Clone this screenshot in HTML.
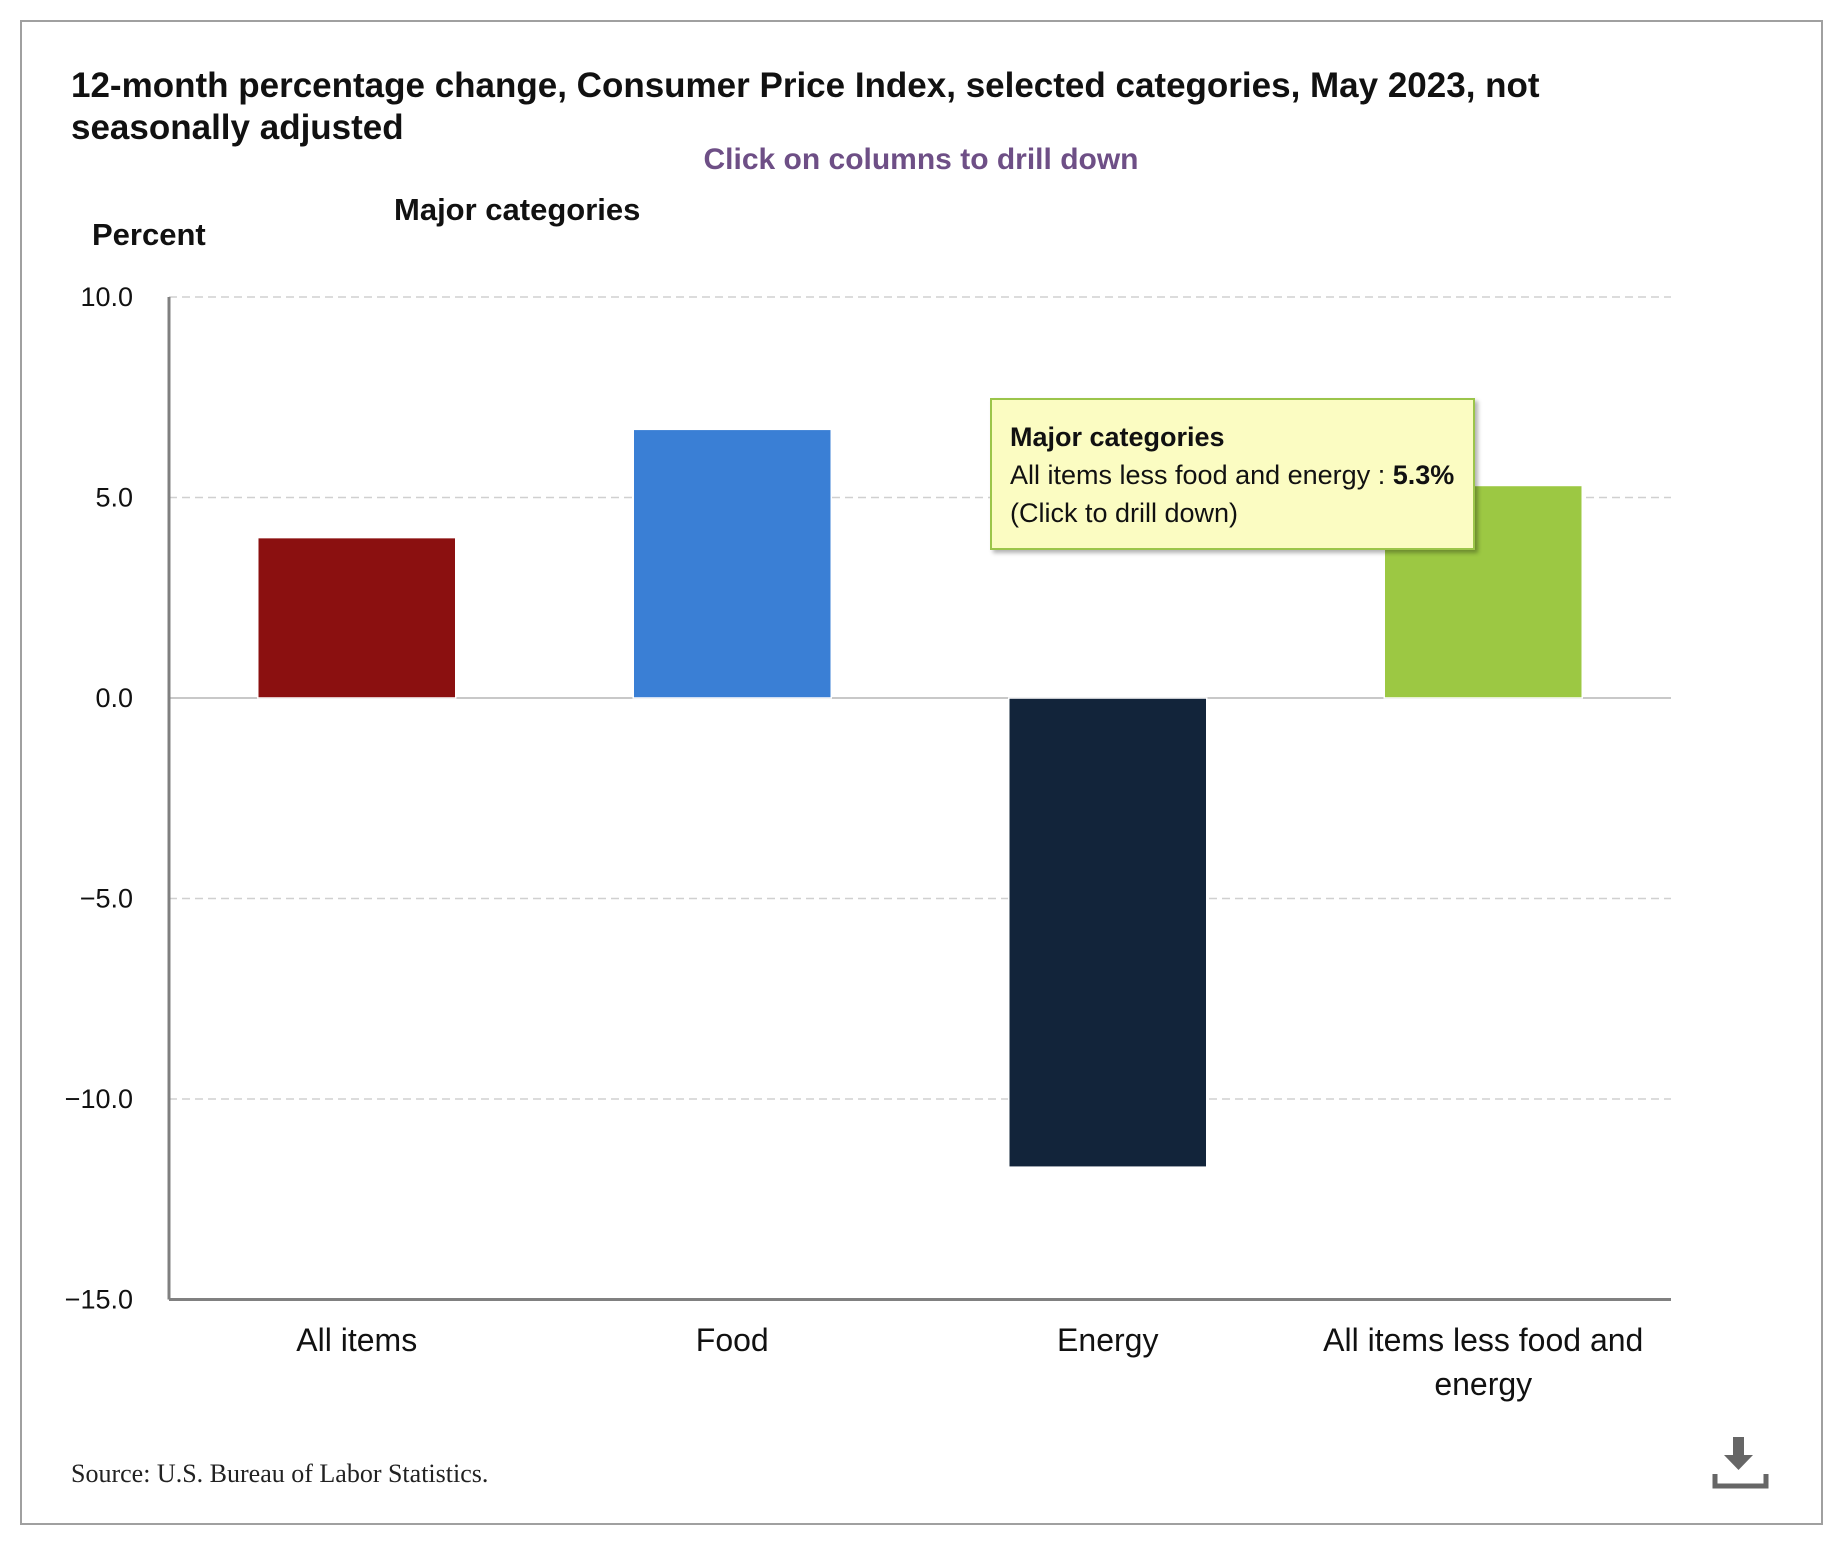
<!DOCTYPE html>
<html><head><meta charset="utf-8">
<style>
html,body{margin:0;padding:0;background:#fff;}
body{width:1832px;height:1546px;position:relative;overflow:hidden;font-family:"Liberation Sans",sans-serif;}
.abs{position:absolute;}
</style></head>
<body>
<div class="abs" style="left:20px;top:20px;width:1799px;height:1501px;border:2px solid #a0a0a0;"></div>
<div class="abs" style="left:71px;top:65px;width:1580px;font-size:35px;font-weight:bold;color:#111;line-height:42px;">12-month percentage change, Consumer Price Index, selected categories, May 2023, not seasonally adjusted</div>
<div class="abs" style="left:571px;top:143px;width:700px;text-align:center;font-size:30px;font-weight:bold;color:#6e4f86;">Click on columns to drill down</div>
<div class="abs" style="left:394px;top:192px;font-size:31px;font-weight:bold;color:#111;">Major categories</div>
<div class="abs" style="left:92px;top:217px;font-size:31px;font-weight:bold;color:#111;">Percent</div>
<svg class="abs" style="left:0;top:0" width="1832" height="1546" id="chart"></svg>
<div class="abs" style="left:990px;top:398px;width:485px;height:152px;background:#fbfcc2;border:2px solid #9bc54a;box-shadow:3px 3px 4px rgba(0,0,0,0.3);box-sizing:border-box;padding:18px 0 0 18px;font-size:27px;line-height:38px;color:#111;">
<div style="font-weight:bold">Major categories</div>
<div>All items less food and energy : <b>5.3%</b></div>
<div>(Click to drill down)</div>
</div>
<div class="abs" style="left:71px;top:1459px;font-family:'Liberation Serif',serif;font-size:26px;color:#222;">Source: U.S. Bureau of Labor Statistics.</div>
<svg class="abs" style="left:1712px;top:1434px" width="58" height="58">
<rect x="21" y="3" width="11" height="20" fill="#666"/>
<polygon points="12,21 41,21 26.5,36" fill="#666"/>
<path d="M3 40 V52 H54 V40" stroke="#666" stroke-width="5" fill="none"/>
</svg>
<script>
const categories=["All items","Food","Energy","All items less food and energy"];
const values=[4.0,6.7,-11.7,5.3];
const colors=["#8b1010","#3a7fd5","#12243a","#9cc843"];
const ticks=[10,5,0,-5,-10,-15];
const tickLabels=["10.0","5.0","0.0","\u22125.0","\u221210.0","\u221215.0"];
const svg=document.getElementById('chart');
const NS='http://www.w3.org/2000/svg';
const X0=169,X1=1671,Y10=297,PPU=40.1;
const y=v=>Y10+(10-v)*PPU;
const band=(X1-X0)/categories.length;
function mk(t,a){const e=document.createElementNS(NS,t);for(const k in a)e.setAttribute(k,a[k]);svg.appendChild(e);return e;}
ticks.forEach((t,i)=>{
  if(t!==0&&t!==-15){const g=mk('line',{x1:X0,x2:X1,y1:y(t),y2:y(t),stroke:'#d0d0d0','stroke-width':1.5,'stroke-dasharray':'8,5'});
  
  }
  const l=mk('text',{x:133,y:y(t)+9,'text-anchor':'end','font-size':27,fill:'#111','font-family':'Liberation Sans, sans-serif'});
  l.textContent=tickLabels[i];
  
  
});
const z=mk('line',{x1:X0,x2:X1,y1:y(0),y2:y(0),stroke:'#c8c8c8','stroke-width':2});


categories.forEach((c,i)=>{
  const cx=X0+band*(i+0.5),w=198,v=values[i];
  const top=Math.min(y(v),y(0)),h=Math.abs(y(v)-y(0));
  const r=mk('rect',{x:cx-w/2,y:top,width:w,height:h,fill:colors[i],stroke:'#fff','stroke-width':1.5,style:'cursor:pointer'});
  
  
  const words=c==="All items less food and energy"?["All items less food and","energy"]:[c];
  words.forEach((wd,j)=>{
    const t=mk('text',{x:cx,y:1351+j*44,'text-anchor':'middle','font-size':32,fill:'#111','font-family':'Liberation Sans, sans-serif'});
    t.textContent=wd;
    
    
  });
});
const ya=mk('line',{x1:X0,x2:X0,y1:y(10),y2:y(-15),stroke:'#808080','stroke-width':3});


const xa=mk('line',{x1:X0,x2:X1,y1:y(-15),y2:y(-15),stroke:'#808080','stroke-width':3});


</script>
</body></html>
